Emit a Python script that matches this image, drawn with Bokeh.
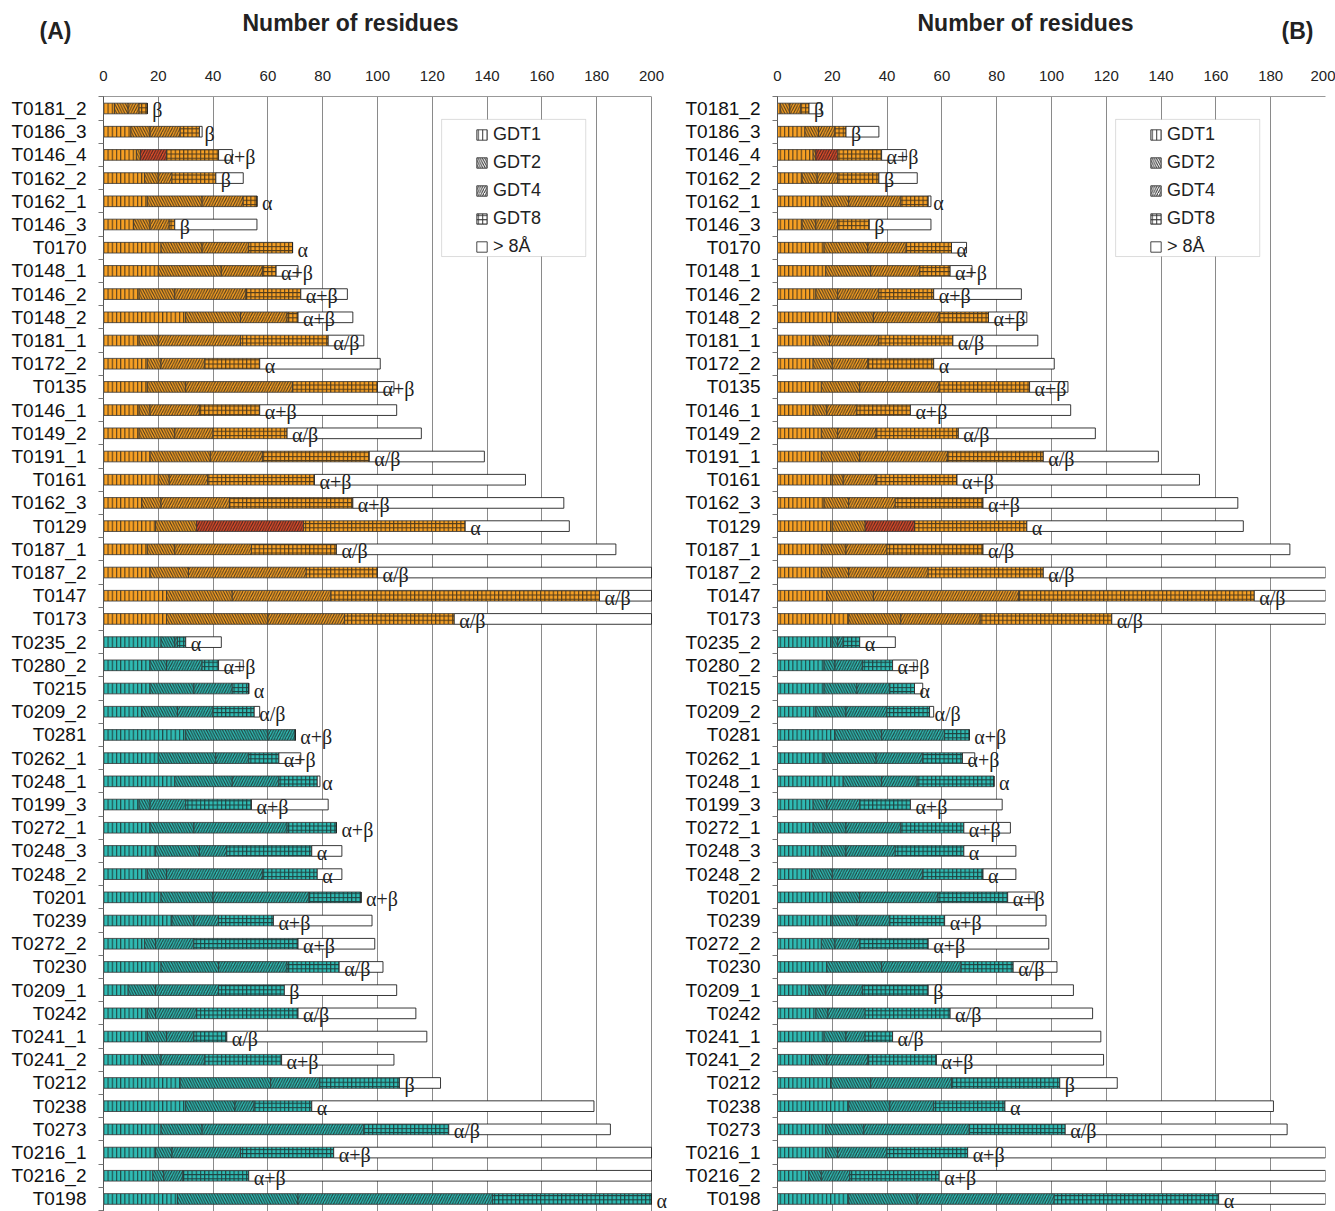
# GDT residue counts per target, two panels (A) and (B)

from bokeh.plotting import figure
from bokeh.models import (ColumnDataSource, Range1d, FixedTicker, LabelSet,
                          Legend, LegendItem, BoxAnnotation)
from bokeh.layouts import row, column
from bokeh.core.properties import value
from bokeh.embed import file_html
from bokeh.resources import INLINE

targets_orange = ["T0181_2", "T0186_3", "T0146_4", "T0162_2", "T0162_1", "T0146_3",
                  "T0170", "T0148_1", "T0146_2", "T0148_2", "T0181_1", "T0172_2",
                  "T0135", "T0146_1", "T0149_2", "T0191_1", "T0161", "T0162_3",
                  "T0129", "T0187_1", "T0187_2", "T0147", "T0173"]
targets_teal = ["T0235_2", "T0280_2", "T0215", "T0209_2", "T0281", "T0262_1",
                "T0248_1", "T0199_3", "T0272_1", "T0248_3", "T0248_2", "T0201",
                "T0239", "T0272_2", "T0230", "T0209_1", "T0242", "T0241_1",
                "T0241_2", "T0212", "T0238", "T0273", "T0216_1", "T0216_2", "T0198"]
targets = targets_orange + targets_teal

fold_class = ["β", "β", "α+β", "β", "α", "β", "α", "α+β", "α+β", "α+β", "α/β", "α",
              "α+β", "α+β", "α/β", "α/β", "α+β", "α+β", "α", "α/β", "α/β", "α/β", "α/β",
              "α", "α+β", "α", "α/β", "α+β", "α+β", "α", "α+β", "α+β", "α", "α",
              "α+β", "α+β", "α+β", "α/β", "β", "α/β", "α/β", "α+β", "β", "α", "α/β",
              "α+β", "α+β", "α"]

# targets whose GDT4 part is shown in red
highlighted = ["T0146_4", "T0129"]

# panel A, cumulative residue counts (bars longer than the axis stop at 200)
a_gdt1 = [4, 10, 12, 15, 16, 11, 21, 20, 13, 30, 13, 16, 16, 13, 13, 17, 20, 14, 19, 16,
          17, 23, 23, 21, 17, 17, 14, 30, 20, 26, 13, 17, 19, 16, 21, 25, 15, 21, 9, 16,
          16, 14, 28, 30, 21, 19, 18, 27]
a_gdt2 = [9, 17, 13.5, 20, 36, 17, 36, 43, 26, 50, 20, 21, 30, 17, 26, 39, 24, 21, 34, 26,
          31, 47, 60, 26, 23, 33, 27, 60, 41, 47, 17, 33, 35, 23, 40, 33, 19, 42, 19, 19,
          23, 21, 61, 48, 36, 25, 22, 71]
a_gdt4 = [13, 28, 23, 25, 51, 24, 53, 58, 52, 67, 50, 37, 69, 35, 40, 58, 38, 46, 73, 54,
          74, 83, 88, 27, 36, 47, 40, 70, 53, 64, 30, 67, 45, 58, 75, 42, 33, 67, 42, 34,
          33, 37, 79, 55, 95, 50, 29, 142]
a_gdt8 = [16, 35, 42, 41, 56, 26, 69, 63, 72, 71, 82, 57, 100, 57, 67, 97, 77, 91, 132, 85,
          100, 181, 128, 30, 42, 53, 55, 70, 64, 78, 54, 85, 76, 78, 94, 62, 71, 86, 66, 71,
          45, 65, 108, 76, 126, 84, 53, 200]
a_total = [16, 36, 47, 51, 56, 56, 69, 71, 89, 91, 95, 101, 106, 107, 116, 139, 154, 168,
           170, 187, 200, 200, 200, 43, 51, 53, 57, 70, 72, 79, 82, 85, 87, 87, 94, 98, 99,
           102, 107, 114, 118, 106, 123, 179, 185, 200, 200, 200]

# panel B, cumulative residue counts
b_gdt1 = [1, 10, 13, 9, 16, 9, 17, 17.6, 14, 22, 13, 13, 16, 13, 16, 16, 20, 17, 20, 16,
          16, 18, 26, 20, 17, 17, 14, 21, 17, 24, 13, 13, 16, 12.5, 20, 20, 16, 18, 11.5,
          14, 17, 12.5, 19.6, 26, 17.6, 17.6, 11.4, 26]
b_gdt2 = [4.5, 15, 14, 14.5, 26, 14, 33, 34, 22, 35, 19, 20, 30, 18, 22, 30, 24, 26, 32,
          25, 26, 35, 45, 22, 21, 29, 25, 38, 36, 38, 18, 25, 25, 20, 30, 29, 21, 38, 17.6,
          18.4, 25, 18, 34, 41, 31.5, 22, 16, 51]
b_gdt4 = [8.5, 21, 22, 22, 45, 22, 47, 52, 37, 59, 37, 33, 59, 29, 36, 62, 36, 43, 50, 40,
          55, 88, 74, 24, 31, 41, 40, 61, 53, 51, 30, 45, 43, 53, 58.6, 41, 30, 67, 31, 32,
          32, 33, 63.5, 57, 70, 40, 26.4, 101]
b_gdt8 = [11.5, 25, 38, 37, 55, 33.5, 63.5, 63, 57, 77, 64, 57, 92, 48.5, 66, 97, 65.5, 75,
          91, 75, 97, 174, 122, 30, 42, 50, 55.5, 70, 67.5, 79, 48.5, 68, 68, 75, 84, 61, 55,
          86, 55, 63, 42, 58, 103, 83, 105, 69.4, 59, 161]
b_total = [16, 37, 47, 51, 56, 56, 69, 71, 89, 91, 95, 101, 106, 107, 116, 139, 154, 168,
           170, 187, 200, 200, 200, 43, 51, 53, 57, 70, 72, 79, 82, 85, 87, 87, 94, 98, 99,
           102, 108, 115, 118, 119, 124, 181, 186, 200, 200, 200]

x_ticks = list(range(0, 201, 20))
legend_names = ["GDT1", "GDT2", "GDT4", "GDT8", "> 8Å"]

ORANGE = "#F7A024"
TEAL = "#2FBAB3"
RED = "#DF4C2B"
FONT = "Liberation Sans"
PATTERNS = ["|", "\\", "/", "+", " "]
SCALES = [4.2, 5.4, 5.4, 4.2, 4]
BAR_H = 0.46


def make_header():
    """panel tags and the two axis titles, above the bar panels"""
    _h = figure(width=1335, height=46, x_range=Range1d(0, 1335), y_range=Range1d(46, 0),
                toolbar_location=None, tools="", output_backend="svg",
                min_border=0)
    _h.axis.visible = False
    _h.grid.grid_line_color = None
    _h.outline_line_color = None
    _h.text(x=[350, 1025], y=[22, 22], text=["Number of residues"] * 2,
            text_align="center", text_baseline="middle", text_font=value(FONT),
            text_font_size="23px", text_font_style="bold", text_color="#222222")
    _h.text(x=[55, 1297], y=[30, 30], text=["(A)", "(B)"],
            text_align="center", text_baseline="middle", text_font=value(FONT),
            text_font_size="23px", text_font_style="bold", text_color="#222222")
    return _h


def make_panel(gdt1, gdt2, gdt4, gdt8, total, border_left, border_right, width, x_end):
    """one panel of stacked horizontal bars"""
    _p = figure(
        width=width,
        height=1165,
        x_range=Range1d(0, x_end),
        y_range=Range1d(47.54, -0.517),
        x_axis_location="above",
        toolbar_location=None,
        tools="",
        output_backend="svg",
        min_border_left=border_left,
        min_border_right=border_right,
        min_border_top=50,
        min_border_bottom=0,
    )
    ys = list(range(len(targets)))
    base = [ORANGE if t in targets_orange else TEAL for t in targets]
    red4 = [RED if t in highlighted else c for t, c in zip(targets, base)]
    zeros = [0] * len(targets)

    segments = [
        (zeros, gdt1, base),
        (gdt1, gdt2, base),
        (gdt2, gdt4, red4),
        (gdt4, gdt8, base),
    ]
    for (left, right, colors), pattern, scale in zip(segments, PATTERNS, SCALES):
        src = ColumnDataSource(dict(y=ys, left=left, right=right, color=colors))
        _p.hbar(y="y", left="left", right="right", height=BAR_H, source=src,
                fill_color="color", line_color="#333333", line_width=0.8,
                hatch_pattern=pattern, hatch_color="#1a1a1a", hatch_alpha=0.75,
                hatch_scale=scale, hatch_weight=1.1)
    src = ColumnDataSource(dict(y=ys, left=gdt8, right=total))
    _p.hbar(y="y", left="left", right="right", height=BAR_H, source=src,
            fill_color="white", line_color="#222222", line_width=0.9)

    lab_src = ColumnDataSource(dict(x=gdt8, y=ys, text=fold_class))
    _p.add_layout(LabelSet(x="x", y="y", text="text", source=lab_src, x_offset=5,
                           y_offset=-2, text_baseline="middle",
                           text_font=value("Liberation Serif"),
                           text_font_size=value("20px"), text_color="#222222"))

    # legend box and legend
    _p.add_layout(BoxAnnotation(left=123.4, right=176, top=0.47, bottom=6.38,
                                fill_color="white", fill_alpha=1.0,
                                line_color="#8a8a8a", line_width=1))
    items = []
    for name, pattern in zip(legend_names, PATTERNS):
        # sample bar kept outside the visible rows, only used for the legend key
        rend = _p.hbar(y=[-5], left=[0], right=[1], height=BAR_H, fill_color="white",
                       line_color="#333333", line_width=0.9, hatch_pattern=pattern,
                       hatch_color="#333333", hatch_scale=4.5, hatch_weight=1)
        items.append(LegendItem(label=name, renderers=[rend]))
    legend = Legend(items=items, location=(372, 954), border_line_color=None,
                    background_fill_alpha=0, padding=5, spacing=7, margin=0,
                    label_height=20, glyph_height=13, glyph_width=13,
                    label_standoff=5, label_text_font=FONT,
                    label_text_font_size="18px", label_text_color="#222222")
    _p.add_layout(legend)

    # axes
    _p.xaxis.ticker = FixedTicker(ticks=x_ticks)
    _p.xaxis.bounds = (0, 200)
    _p.xaxis.major_tick_out = 0
    _p.xaxis.major_tick_in = 0
    _p.xaxis.minor_tick_out = 0
    _p.xaxis.axis_line_color = "#999999"
    _p.xaxis.major_label_standoff = 16
    _p.xaxis.major_label_text_font = FONT
    _p.xaxis.major_label_text_font_size = "15px"
    _p.xaxis.major_label_text_color = "#222222"

    _p.yaxis.ticker = FixedTicker(ticks=ys, minor_ticks=[i - 0.5 for i in range(49)])
    _p.yaxis.major_label_overrides = {i: t for i, t in enumerate(targets)}
    _p.yaxis.major_tick_out = 0
    _p.yaxis.major_tick_in = 0
    _p.yaxis.minor_tick_out = 5
    _p.yaxis.minor_tick_in = 0
    _p.yaxis.axis_line_color = "#555555"
    _p.yaxis.minor_tick_line_color = "#777777"
    _p.yaxis.major_label_standoff = 12
    _p.yaxis.major_label_text_font = FONT
    _p.yaxis.major_label_text_font_size = "19px"
    _p.yaxis.major_label_text_color = "#111111"

    _p.xgrid.grid_line_color = "#8a8a8a"
    _p.ygrid.grid_line_color = None
    _p.outline_line_color = None
    return _p


# panel A frame runs a little past 200 so the last label fits
panel_a = make_panel(a_gdt1, a_gdt2, a_gdt4, a_gdt8, a_total, 103, 0, 668,
                     200 * 565 / 548)
panel_b = make_panel(b_gdt1, b_gdt2, b_gdt4, b_gdt8, b_total, 109, 10, 667, 200)

layout = column(make_header(), row(panel_a, panel_b))
open("out.html", "w").write(file_html(layout, INLINE))
